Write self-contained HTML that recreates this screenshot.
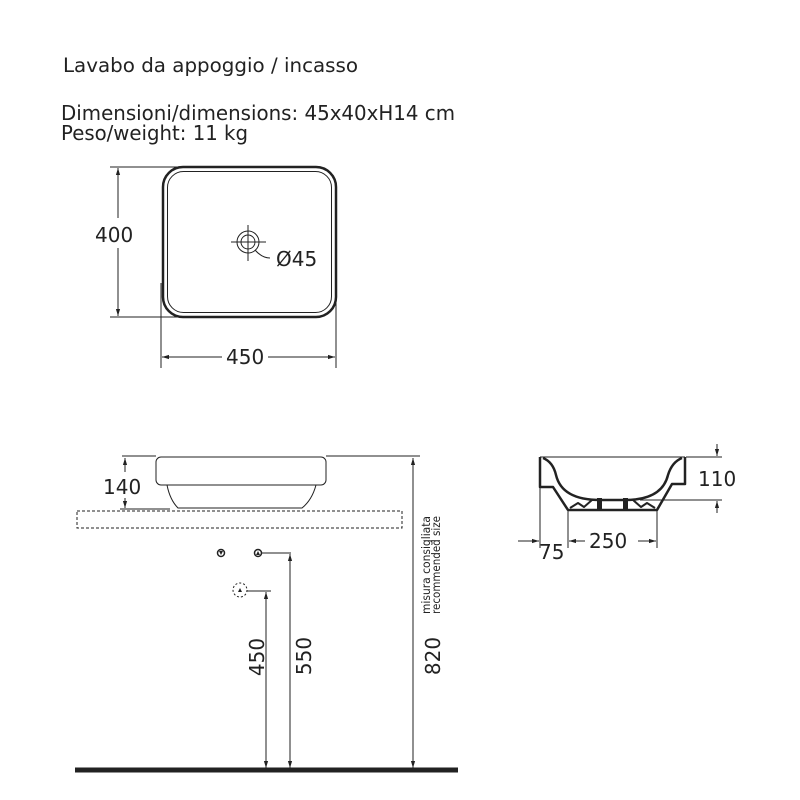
<!DOCTYPE html>
<html><head><style>
body{margin:0;background:#fff;}
svg{display:block;}
text{font-family:"DejaVu Sans","Liberation Sans",sans-serif;fill:#222;}
</style></head><body>
<svg width="800" height="800" viewBox="0 0 800 800" xmlns="http://www.w3.org/2000/svg">
<defs>
<marker id="a" viewBox="0 0 10 10" refX="10" refY="5" markerWidth="7" markerHeight="7" orient="auto-start-reverse"><path d="M0,2 L10,5 L0,8 z" fill="#222"/></marker>
</defs>
<text x="63" y="72" font-size="19.5" textLength="295" lengthAdjust="spacingAndGlyphs">Lavabo da appoggio / incasso</text>
<text x="61" y="120" font-size="20.5" textLength="394" lengthAdjust="spacingAndGlyphs">Dimensioni/dimensions: 45x40xH14 cm</text>
<text x="61" y="140" font-size="20.5" textLength="187" lengthAdjust="spacingAndGlyphs">Peso/weight: 11 kg</text>

<!-- plan view -->
<g stroke="#222" fill="none">
<rect x="163" y="167" width="173" height="150" rx="20" stroke-width="2.5"/>
<rect x="167.5" y="171.5" width="164" height="141" rx="16" stroke-width="1"/>
<circle cx="248" cy="242" r="11" stroke-width="1"/>
<circle cx="248" cy="242" r="7" stroke-width="1"/>
<line x1="231" y1="242" x2="266" y2="242" stroke-width="1"/>
<line x1="248" y1="225" x2="248" y2="261" stroke-width="1"/>
<path d="M255,250 Q262,258 270,258" stroke-width="1"/>
<line x1="110" y1="167" x2="178" y2="167" stroke-width="1"/>
<line x1="110" y1="317" x2="178" y2="317" stroke-width="1"/>
<line x1="118" y1="168" x2="118" y2="218" stroke-width="1" marker-start="url(#a)"/>
<line x1="118" y1="248" x2="118" y2="316" stroke-width="1" marker-end="url(#a)"/>
<line x1="161" y1="283" x2="161" y2="368" stroke-width="1"/>
<line x1="336" y1="288" x2="336" y2="368" stroke-width="1"/>
<line x1="162" y1="357" x2="222" y2="357" stroke-width="1" marker-start="url(#a)"/>
<line x1="268" y1="357" x2="335" y2="357" stroke-width="1" marker-end="url(#a)"/>
</g>
<text x="95" y="242" font-size="20">400</text>
<text x="276" y="266" font-size="20">Ø45</text>
<text x="226" y="364" font-size="20">450</text>

<!-- front view -->
<g stroke="#222" fill="none" stroke-width="1">
<rect x="156" y="457" width="170" height="28" rx="5"/>
<path d="M167,485 Q170,500 178,508 L302,508 Q312,500 316,485"/>
<rect x="77" y="511" width="325" height="17" stroke-dasharray="3,2"/>
<line x1="122" y1="456" x2="156" y2="456"/>
<line x1="120" y1="509" x2="170" y2="509"/>
<line x1="125" y1="458" x2="125" y2="472" marker-start="url(#a)"/>
<line x1="125" y1="498" x2="125" y2="508" marker-end="url(#a)"/>
<line x1="326" y1="456" x2="420" y2="456"/>
<line x1="413" y1="458" x2="413" y2="768" marker-start="url(#a)" marker-end="url(#a)"/>
<circle cx="221" cy="553" r="3.5" stroke-width="1.5"/>
<circle cx="258" cy="553" r="3.5" stroke-width="1.5"/>
<circle cx="240" cy="590" r="7" stroke-dasharray="2,2"/>
<line x1="262" y1="553" x2="291" y2="553"/>
<line x1="290" y1="554" x2="290" y2="768" marker-start="url(#a)" marker-end="url(#a)"/>
<line x1="247" y1="591" x2="271" y2="591"/>
<line x1="266" y1="592" x2="266" y2="768" marker-start="url(#a)" marker-end="url(#a)"/>
</g>
<path d="M219,551 L223,551 L221,555 z M256,555 L260,555 L258,551 z M238,592 L242,592 L240,588 z" fill="#222"/>
<line x1="75" y1="770" x2="458" y2="770" stroke="#222" stroke-width="5"/>
<text x="103" y="494" font-size="20">140</text>
<text transform="translate(264,657) rotate(-90)" font-size="20" text-anchor="middle">450</text>
<text transform="translate(311,656) rotate(-90)" font-size="20" text-anchor="middle">550</text>
<text transform="translate(440,656) rotate(-90)" font-size="20" text-anchor="middle">820</text>
<text transform="translate(430,614) rotate(-90)" font-size="11.5" textLength="98" lengthAdjust="spacingAndGlyphs">misura consigliata</text>
<text transform="translate(440,614) rotate(-90)" font-size="11.5" textLength="98" lengthAdjust="spacingAndGlyphs">recommended size</text>

<!-- section view -->
<g stroke="#222" fill="none" stroke-linejoin="round">
<line x1="540" y1="457" x2="685" y2="457" stroke-width="1"/>
<path d="M540,457 L540,487 L553,487 L568,510 L657,510 L672,484 L685,484 L685,457" stroke-width="2.5"/>
<path d="M543,458 Q553,462 556,475 Q562,500 600,500 L625,500 Q662,500 668,475 Q672,462 682,458" stroke-width="2.5"/>
<path d="M570,508 L578,503 L584,507 L592,500 M655,508 L647,503 L641,507 L633,500" stroke-width="2"/>
<rect x="597" y="498" width="5" height="11" fill="#222" stroke="none"/>
<rect x="623" y="498" width="5" height="11" fill="#222" stroke="none"/>
</g>
<g stroke="#222" fill="none" stroke-width="1">
<line x1="686" y1="457" x2="722" y2="457"/>
<line x1="640" y1="500" x2="722" y2="500"/>
<line x1="717" y1="444" x2="717" y2="456" marker-end="url(#a)"/>
<line x1="717" y1="513" x2="717" y2="501" marker-end="url(#a)"/>
<line x1="540" y1="488" x2="540" y2="548"/>
<line x1="568" y1="511" x2="568" y2="548"/>
<line x1="657" y1="511" x2="657" y2="548"/>
<line x1="518" y1="541" x2="539" y2="541" marker-end="url(#a)"/>
<line x1="585" y1="541" x2="569" y2="541" marker-end="url(#a)"/>
<line x1="638" y1="541" x2="656" y2="541" marker-end="url(#a)"/>
</g>
<text x="698" y="486" font-size="20">110</text>
<text x="539" y="559" font-size="20">75</text>
<text x="589" y="548" font-size="20">250</text>
</svg>
</body></html>
